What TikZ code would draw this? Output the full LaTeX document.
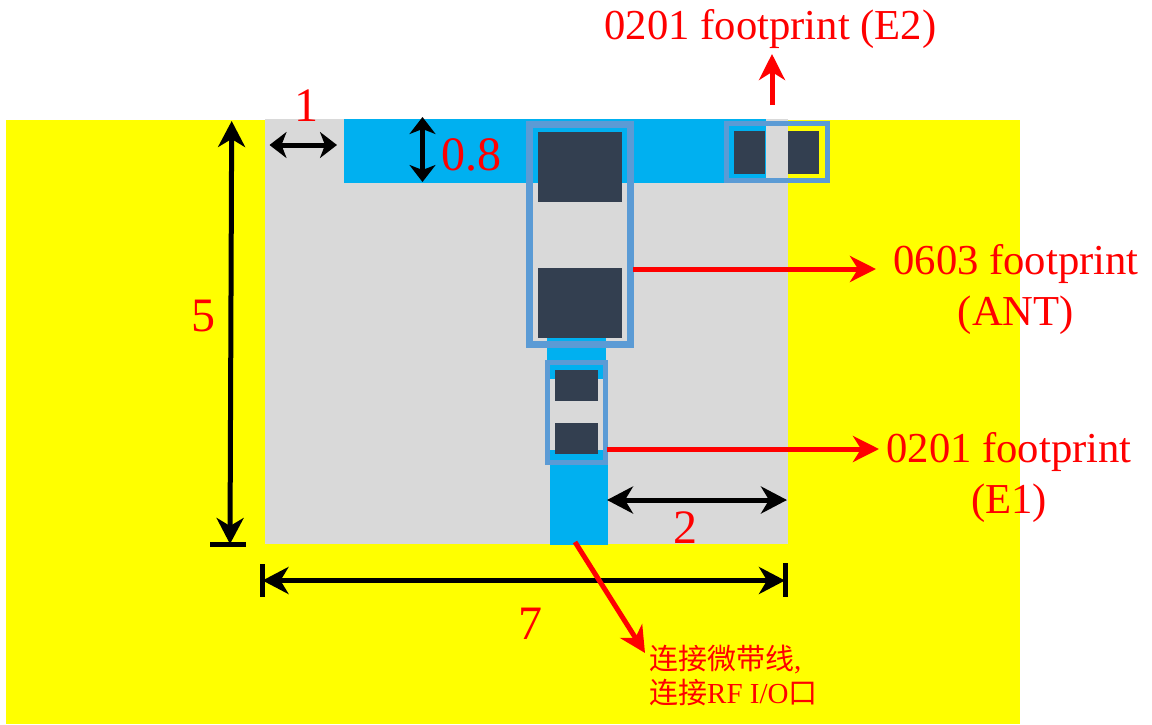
\documentclass[tikz,border=0pt]{standalone}
\usepackage{fontspec}
\setmainfont{Liberation Serif}
\newfontfamily\cjkfont{Noto Sans CJK SC}
\usetikzlibrary{arrows.meta}
\definecolor{groundyellow}{RGB}{255,255,0}
\definecolor{calloutred}{RGB}{255,0,0}
\definecolor{traceblue}{RGB}{0,176,240}
\definecolor{padnavy}{RGB}{51,63,80}
\definecolor{boxblue}{RGB}{91,155,213}
\definecolor{cleargray}{RGB}{217,217,217}
\tikzset{
  dim/.style={line width=5pt, <->, >={Stealth[length=17pt,width=26pt,inset=5pt]}},
  dimlong/.style={line width=5pt, <->, >={Stealth[length=26pt,width=27pt,inset=8pt]}},
  dimbar/.style={line width=5pt},
  callout/.style={calloutred, line width=5pt, ->, >={Stealth[length=26pt,width=26pt,inset=8pt]}},
  biglabel/.style={calloutred, inner sep=0pt, font=\fontsize{42.67}{51}\selectfont},
  numlabel/.style={calloutred, inner sep=0pt, font=\fontsize{48}{48}\selectfont},
  smalllabel/.style={calloutred, inner sep=0pt, font=\fontsize{29}{34}\selectfont}
}

\begin{document}
\begin{tikzpicture}[x=1pt,y=-1pt]
  \useasboundingbox (0,0) rectangle (1152,724);

  % ground and clearance
  \fill [groundyellow] (6,120) rectangle (1020,724);
  \fill [cleargray] (265,119) rectangle (787.5,544);

  % traces
  \fill [traceblue] (344,119) rectangle (766,183);
  \fill [traceblue] (547,338) rectangle (606,379);
  \fill [traceblue] (550,450) rectangle (608,545);

  % pads
  \foreach \xa/\ya/\xb/\yb in {538/132/622/202, 538/268/622/338,
      555/370/598/401, 555/423/598/454, 734/131/765/174, 788/131/819/174}
    \fill [padnavy] (\xa,\ya) rectangle (\xb,\yb);

  % footprints
  \draw [boxblue, line width=7pt] (529,124.5) rectangle (630,344.7);
  \draw [boxblue, line width=5pt] (547,362) rectangle (605,462.5);
  \draw [boxblue, line width=5pt] (726.5,123) rectangle (827,180.5);

  % dimensions
  \coordinate (gapleft) at (269.5,145);
  \coordinate (gapright) at (337,145);
  \coordinate (widthtop) at (422.5,117);
  \coordinate (widthbottom) at (422.5,182);
  \coordinate (heighttop) at (231.7,121);
  \coordinate (heightbottom) at (230,544);
  \coordinate (spanleft) at (262.5,580.5);
  \coordinate (spanright) at (785,580.5);
  \coordinate (sideleft) at (607,500);
  \coordinate (sideright) at (787,500);
  \draw [dim] (gapleft) -- (gapright);
  \draw [dim] (widthtop) -- (widthbottom);
  \draw [dimlong] (heighttop) -- (heightbottom);
  \draw [dimlong] (spanleft) -- (spanright);
  \draw [dimlong] (sideleft) -- (sideright);
  \draw [dimbar] (210,544.5) -- (246,544.5);
  \draw [dimbar] (262.5,564) -- (262.5,597);
  \draw [dimbar] (785,563) -- (785,597);

  \node [numlabel] (labelgap) at (306,106) {1};
  \node [numlabel] (labelwidth) at (471,155) {0.8};
  \node [numlabel] (labelheight) at (203,316) {5};
  \node [numlabel] (labelside) at (685,528) {2};
  \node [numlabel] (labelspan) at (530,624) {7};

  % callouts
  \coordinate (etwofrom) at (772,105);
  \coordinate (etwoto) at (772,54);
  \coordinate (antfrom) at (633,269);
  \coordinate (antto) at (876,269);
  \coordinate (eonefrom) at (607,449);
  \coordinate (eoneto) at (879,449);
  \coordinate (linefrom) at (575,542);
  \coordinate (lineto) at (645,653);
  \draw [callout] (etwofrom) -- (etwoto);
  \draw [callout] (antfrom) -- (antto);
  \draw [callout] (eonefrom) -- (eoneto);
  \draw [callout] (linefrom) -- (lineto);

  \node [biglabel, anchor=base] (labeletwo) at (770.5,39) {0201 footprint (E2)};
  \node [biglabel, anchor=base, align=center] (labelant) at (1016,325.5) {0603 footprint\\(ANT)};
  \node [biglabel, anchor=base, align=center] (labeleone) at (1009,513) {0201 footprint\\(E1)};
  \node [smalllabel, anchor=base west, align=left] (labelline) at (649,703)
    {{\cjkfont 连接微带线},\\{\cjkfont 连接}RF I/O{\cjkfont 口}};
\end{tikzpicture}
\end{document}
